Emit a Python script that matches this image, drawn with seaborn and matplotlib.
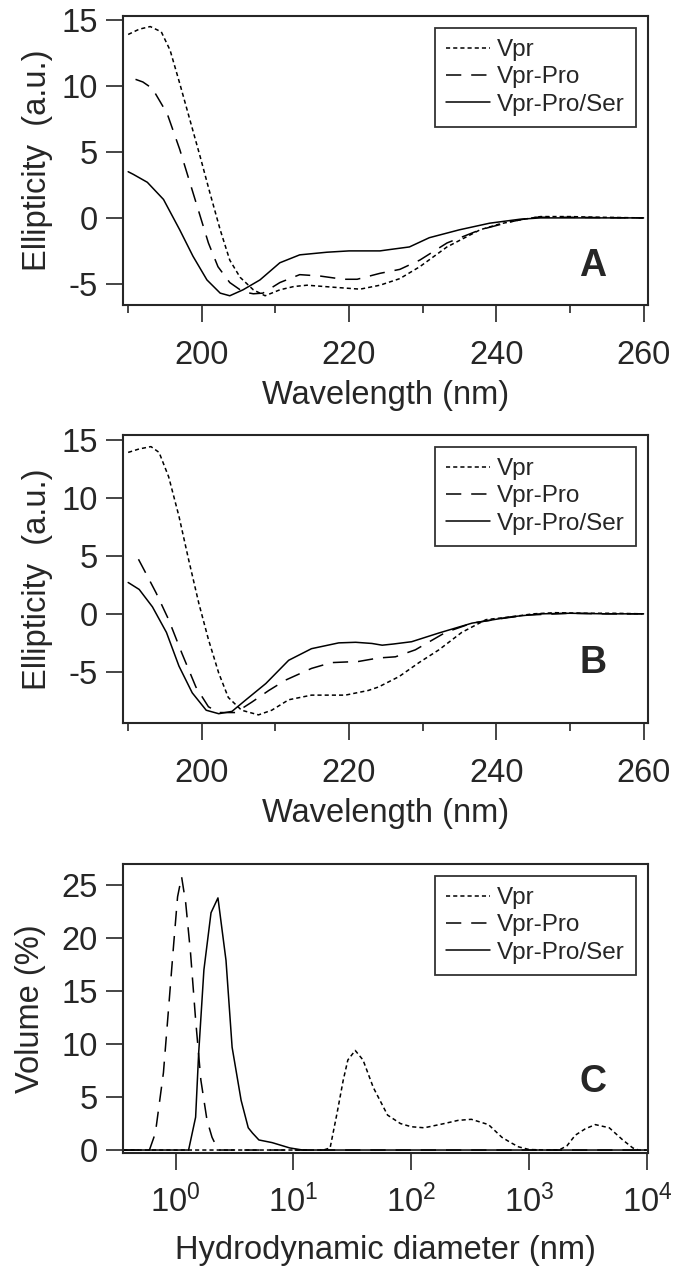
import numpy as np
import pandas as pd
import matplotlib
matplotlib.use("Agg")
import matplotlib.pyplot as plt
import seaborn as sns
from matplotlib.ticker import MultipleLocator, LogLocator, NullLocator

sns.set_style("ticks")
plt.rcParams['font.family'] = ['Liberation Sans', 'DejaVu Sans']
plt.rcParams['mathtext.fontset'] = 'custom'
plt.rcParams['mathtext.rm'] = 'Liberation Sans'
plt.rcParams['mathtext.it'] = 'Liberation Sans:italic'
plt.rcParams['axes.unicode_minus'] = False

labels = ["Vpr", "Vpr-Pro", "Vpr-Pro/Ser"]

# ---- panel A : CD spectra ----
wl_a_vpr = [190, 191.5, 193, 194.5, 195.7, 197, 198.4, 199.8, 201.1, 202.5, 203.8, 205.2, 207, 208.6,
            210.6, 212.5, 214.3, 217.8, 221.5, 224.2, 226.9, 229.6, 233.3, 237.8, 240.5, 243.2, 246,
            250, 254, 260]
a_vpr = [13.9, 14.3, 14.5, 14.1, 12.7, 10.2, 7.4, 4.6, 1.9, -0.9, -3.2, -4.5, -5.45, -5.9,
         -5.45, -5.2, -5.1, -5.25, -5.4, -5.1, -4.6, -3.7, -2.2, -0.9, -0.45, -0.15, 0.1,
         0.1, 0.05, 0.0]

wl_a_pro = [191, 192, 193.3, 195.3, 197, 198.4, 199.8, 200.9, 202.2, 203.8, 205.6, 207, 208.3, 210.6,
            213.3, 216, 219.2, 221.1, 224.2, 226.9, 229.6, 233.3, 237.8, 241.9, 245, 250, 255, 260]
a_pro = [10.5, 10.3, 9.8, 7.9, 5.2, 2.65, 0.1, -1.9, -3.7, -4.9, -5.6, -5.75, -5.7, -4.9,
         -4.3, -4.4, -4.65, -4.65, -4.2, -3.9, -3.2, -1.9, -0.9, -0.3, 0.05, 0.05, 0.02, 0.0]

wl_a_ser = [190, 190.7, 192.6, 194.8, 197, 198.8, 200.7, 202.5, 203.8, 205.6, 207.9, 210.6, 213.3,
            217, 220, 224.2, 225.5, 228.2, 230.9, 235, 239.1, 243.2, 246, 250, 260]
a_ser = [3.5, 3.3, 2.7, 1.4, -0.9, -2.9, -4.7, -5.7, -5.9, -5.45, -4.7, -3.4, -2.8,
         -2.6, -2.5, -2.5, -2.4, -2.2, -1.5, -0.9, -0.4, -0.1, 0.0, 0.0, 0.0]

# ---- panel B : CD spectra ----
wl_b_vpr = [190, 191.5, 193.1, 194.2, 195.5, 196.9, 198.2, 199.6, 200.9, 202.3, 203.6, 205.4, 207.7,
            209.5, 211.8, 214.9, 219.5, 222.6, 224, 226.8, 229.5, 232.2, 235.3, 238.6, 242.1, 245,
            248, 252, 256, 260]
b_vpr = [13.9, 14.2, 14.4, 13.9, 11.8, 8.4, 4.7, 0.9, -2.2, -5.1, -7.2, -8.3, -8.7,
         -8.3, -7.4, -7.0, -7.0, -6.6, -6.3, -5.4, -4.2, -3.1, -1.6, -0.5, -0.25, 0.0,
         0.1, 0.05, 0.05, 0.0]

wl_b_pro = [191.4, 192.4, 193.8, 195.5, 197.3, 199.2, 200.9, 202.3, 204.6, 206.8, 209.1, 211.4, 214.9,
            217.6, 221.3, 224, 226.3, 229, 233.1, 236.7, 241.3, 244.4, 250, 255, 260]
b_pro = [4.7, 3.5, 1.8, -0.5, -3.4, -6.3, -8.0, -8.5, -8.5, -7.6, -6.6, -5.7, -4.7,
         -4.2, -4.1, -3.8, -3.7, -3.1, -1.6, -0.8, -0.35, -0.1, 0.05, 0.0, 0.0]

wl_b_ser = [190, 191.5, 193.3, 195.2, 196.9, 198.7, 200.6, 202.3, 204.1, 206, 208.7, 211.8, 214.9,
            218.6, 220.9, 223.1, 224.5, 226, 228.5, 232.2, 236.7, 242.1, 246, 250, 255, 260]
b_ser = [2.7, 2.1, 0.6, -1.6, -4.5, -6.8, -8.3, -8.6, -8.4, -7.4, -6.0, -4.0, -3.0,
         -2.5, -2.45, -2.55, -2.7, -2.6, -2.4, -1.65, -0.8, -0.25, 0.0, 0.05, 0.0, 0.0]

# ---- panel C : DLS size distribution ----
d_vpr = [0.36, 1, 10, 18, 20.5, 23.5, 26.5, 29, 33.5, 39, 47.7, 63, 81, 100, 129, 191, 250, 324,
         453, 589, 700, 815, 1000, 1400, 1800, 2100, 2470, 3000, 3650, 4800, 6250, 7600, 8500, 10000]
c_vpr = [0, 0, 0, 0, 0.2, 3.5, 6.6, 8.5, 9.4, 8.5, 5.9, 3.3, 2.5, 2.2, 2.1, 2.5, 2.8, 2.9,
         2.4, 1.2, 0.7, 0.3, 0.05, 0, 0, 0.4, 1.4, 2.0, 2.4, 2.1, 0.95, 0.2, 0, 0]

d_pro = [0.36, 0.6, 0.674, 0.789, 0.87, 0.96, 1.04, 1.125, 1.22, 1.34, 1.48, 1.64, 1.85, 2.04,
         2.3, 3, 10, 100, 1000, 10000]
c_pro = [0, 0, 1.6, 7.3, 13.2, 19.2, 23.9, 25.8, 23.3, 18.6, 12.3, 6.6, 2.8, 1.2,
         0, 0, 0, 0, 0, 0]

d_ser = [0.36, 1.0, 1.29, 1.48, 1.57, 1.74, 2.0, 2.29, 2.68, 3.02, 3.6, 4.14, 4.5, 5.1, 6.6,
         9.3, 12, 100, 1000, 10000]
c_ser = [0, 0, 0, 3.1, 9.1, 17, 22.4, 23.8, 17.9, 9.7, 4.7, 2.1, 1.6, 0.95, 0.7,
         0.2, 0, 0, 0, 0]

dot = (2.7, 2.0)
dash = (10, 6.5)
styles = [dot, dash, None]

FS = 23.5


def style_axis(ax, xpad=13):
    for s in ax.spines.values():
        s.set_linewidth(1.5)
        s.set_visible(True)
    ax.tick_params(which='major', length=12, width=1.2, labelsize=FS, pad=6, direction='out')
    ax.tick_params(which='minor', length=6, width=1.2, direction='out')
    ax.tick_params(axis='x', which='major', pad=xpad)


def draw(ax, series):
    for (x, y), lab, ds in zip(series, labels, styles):
        kw = dict(color='black', linewidth=1.1, label=lab)
        if ds is not None:
            kw['dashes'] = ds
        sns.lineplot(x=x, y=y, ax=ax, sort=False, **kw)
    leg = ax.legend(loc='upper right', fontsize=17.5, frameon=True, fancybox=False,
                    borderaxespad=0.5, handlelength=1.8, handletextpad=0.3,
                    labelspacing=0.22, borderpad=0.45)
    leg.get_frame().set_edgecolor('black')
    leg.get_frame().set_linewidth(1.3)


fig = plt.figure(figsize=(6.78, 12.76), dpi=100)

# A
axA = fig.add_axes([123 / 678, 1 - 305 / 1276, 525 / 678, 289 / 1276])
draw(axA, [(wl_a_vpr, a_vpr), (wl_a_pro, a_pro), (wl_a_ser, a_ser)])
axA.set_xlim(189.3, 260.6)
axA.set_ylim(-6.6, 15.3)
axA.set_yticks([-5, 0, 5, 10, 15])
axA.xaxis.set_major_locator(MultipleLocator(20))
axA.xaxis.set_minor_locator(MultipleLocator(10))
axA.set_xlabel("Wavelength (nm)", fontsize=FS, labelpad=7)
axA.set_ylabel("Ellipticity  (a.u.)", fontsize=FS, labelpad=6)
axA.text(0.895, 0.135, "A", transform=axA.transAxes, fontsize=27, fontweight='bold',
         ha='center', va='center')
style_axis(axA)

# B
axB = fig.add_axes([123 / 678, 1 - 723 / 1276, 525 / 678, 288 / 1276])
draw(axB, [(wl_b_vpr, b_vpr), (wl_b_pro, b_pro), (wl_b_ser, b_ser)])
axB.set_xlim(189.3, 260.6)
axB.set_ylim(-9.4, 15.4)
axB.set_yticks([-5, 0, 5, 10, 15])
axB.xaxis.set_major_locator(MultipleLocator(20))
axB.xaxis.set_minor_locator(MultipleLocator(10))
axB.set_xlabel("Wavelength (nm)", fontsize=FS, labelpad=7)
axB.set_ylabel("Ellipticity  (a.u.)", fontsize=FS, labelpad=6)
axB.text(0.895, 0.21, "B", transform=axB.transAxes, fontsize=27, fontweight='bold',
         ha='center', va='center')
style_axis(axB)

# C
axC = fig.add_axes([123 / 678, 1 - 1153 / 1276, 525 / 678, 289 / 1276])
axC.set_xscale('log')
draw(axC, [(d_vpr, c_vpr), (d_pro, c_pro), (d_ser, c_ser)])
axC.set_xlim(0.358, 10 ** 4.01)
axC.set_ylim(-0.28, 27)
axC.set_yticks([0, 5, 10, 15, 20, 25])
axC.xaxis.set_major_locator(LogLocator(base=10, numticks=10))
axC.xaxis.set_minor_locator(NullLocator())
axC.set_xlabel("Hydrodynamic diameter (nm)", fontsize=FS, labelpad=11)
axC.set_ylabel("Volume (%)", fontsize=FS, labelpad=11)
axC.text(0.895, 0.246, "C", transform=axC.transAxes, fontsize=27, fontweight='bold',
         ha='center', va='center')
style_axis(axC, xpad=11)

fig.savefig("out.png", dpi=100)
